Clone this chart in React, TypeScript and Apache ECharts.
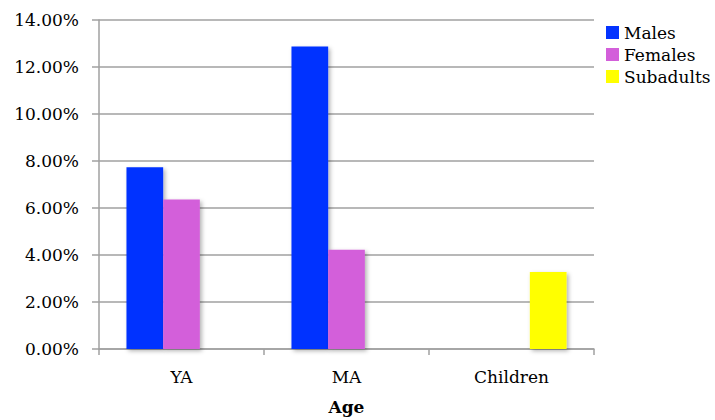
import React, { useEffect, useRef } from "react";
import * as echarts from "echarts";

const categories = ["YA", "MA", "Children"];
const males = [7.73, 12.87, null];
const females = [6.36, 4.22, null];
const subadults = [null, null, 3.28];
const seriesNames = ["Males", "Females", "Subadults"];
const colors = ["#0433FF", "#D35FDA", "#FFFF00"];

const FONT = "DejaVu Serif";

export default function App() {
  const ref = useRef<HTMLDivElement>(null);
  useEffect(() => {
    if (!ref.current) return;
    const chart = echarts.init(ref.current, null, { renderer: "svg" });
    const dataSets = [males, females, subadults];
    chart.setOption({
      animation: false,
      backgroundColor: "#ffffff",
      textStyle: { fontFamily: FONT },
      grid: { left: 99, right: 121, top: 20, bottom: 67, containLabel: false },
      legend: {
        orient: "vertical",
        left: 601,
        top: 19,
        itemWidth: 13,
        itemHeight: 13,
        itemGap: 5,
        icon: "rect",
        textStyle: { fontFamily: FONT, fontSize: 17, color: "#000", padding: [0, 0, 0, 0] },
        data: seriesNames,
      },
      xAxis: {
        type: "category",
        data: categories,
        name: "Age",
        nameLocation: "middle",
        nameGap: 49,
        nameTextStyle: { fontFamily: FONT, fontSize: 17, fontWeight: "bold", color: "#000" },
        axisLine: { show: true, lineStyle: { color: "#a0a0a0", width: 1.5 } },
        axisTick: { show: true, length: 6, alignWithLabel: false, lineStyle: { color: "#a0a0a0", width: 1.5 } },
        axisLabel: { fontFamily: FONT, fontSize: 17, color: "#000", margin: 19 },
      },
      yAxis: {
        type: "value",
        min: 0,
        max: 14,
        interval: 2,
        axisLine: { show: true, lineStyle: { color: "#a0a0a0", width: 1.5 } },
        axisTick: { show: true, length: 7, lineStyle: { color: "#a0a0a0", width: 1.5 } },
        splitLine: { show: true, lineStyle: { color: "#a0a0a0", width: 1.5 } },
        axisLabel: {
          fontFamily: FONT,
          fontSize: 17,
          color: "#000",
          margin: 20,
          formatter: (v: number) => v.toFixed(2) + "%",
        },
      },
      series: seriesNames.map((name, i) => ({
        name,
        type: "bar",
        data: dataSets[i],
        barGap: "0%",
        barCategoryGap: "33.3%",
        itemStyle: {
          color: colors[i],
          shadowBlur: 4,
          shadowColor: "rgba(0,0,0,0.3)",
          shadowOffsetX: 2,
          shadowOffsetY: 2,
        },
      })),
    });
    return () => chart.dispose();
  }, []);
  return (
    <div
      ref={ref}
      style={{ position: "fixed", left: 0, top: 0, width: 715, height: 420 }}
    />
  );
}
